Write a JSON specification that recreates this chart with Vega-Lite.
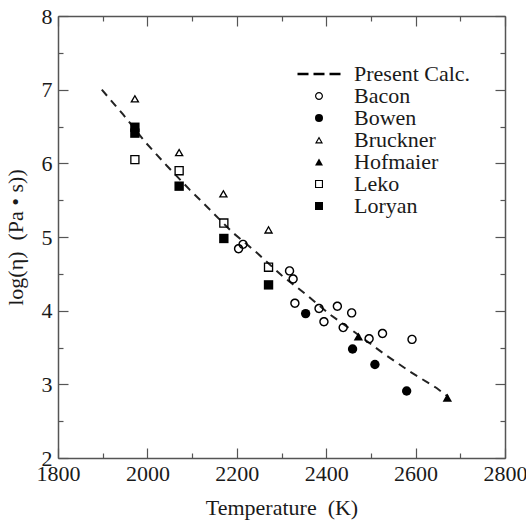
{
  "$schema": "https://vega.github.io/schema/vega-lite/v6.json",
  "width": 447,
  "height": 442,
  "autosize": {"type": "none"},
  "padding": {"left": 58, "top": 16, "right": 21, "bottom": 64},
  "background": "white",
  "datasets": {
    "calc": [
      {"T": 1898, "logeta": 7.00},
      {"T": 1946, "logeta": 6.66},
      {"T": 1995, "logeta": 6.29},
      {"T": 2043, "logeta": 5.97},
      {"T": 2095, "logeta": 5.64},
      {"T": 2140, "logeta": 5.37},
      {"T": 2189, "logeta": 5.07},
      {"T": 2248, "logeta": 4.77},
      {"T": 2300, "logeta": 4.48},
      {"T": 2353, "logeta": 4.23},
      {"T": 2408, "logeta": 3.95},
      {"T": 2470, "logeta": 3.68},
      {"T": 2528, "logeta": 3.42},
      {"T": 2588, "logeta": 3.17},
      {"T": 2647, "logeta": 2.95},
      {"T": 2673, "logeta": 2.83}
    ],
    "obs": [
      {"src": "Bacon", "T": 2204, "logeta": 4.84},
      {"src": "Bacon", "T": 2214, "logeta": 4.90},
      {"src": "Bacon", "T": 2318, "logeta": 4.54},
      {"src": "Bacon", "T": 2326, "logeta": 4.43},
      {"src": "Bacon", "T": 2330, "logeta": 4.10},
      {"src": "Bacon", "T": 2384, "logeta": 4.03},
      {"src": "Bacon", "T": 2395, "logeta": 3.85},
      {"src": "Bacon", "T": 2425, "logeta": 4.06},
      {"src": "Bacon", "T": 2438, "logeta": 3.77},
      {"src": "Bacon", "T": 2457, "logeta": 3.97},
      {"src": "Bacon", "T": 2496, "logeta": 3.62},
      {"src": "Bacon", "T": 2526, "logeta": 3.69},
      {"src": "Bacon", "T": 2592, "logeta": 3.61},
      {"src": "Bowen", "T": 2354, "logeta": 3.96},
      {"src": "Bowen", "T": 2459, "logeta": 3.48},
      {"src": "Bowen", "T": 2509, "logeta": 3.27},
      {"src": "Bowen", "T": 2580, "logeta": 2.91},
      {"src": "Bruckner", "T": 1972, "logeta": 6.88},
      {"src": "Bruckner", "T": 2071, "logeta": 6.15},
      {"src": "Bruckner", "T": 2170, "logeta": 5.59},
      {"src": "Bruckner", "T": 2271, "logeta": 5.10},
      {"src": "Hofmaier", "T": 2472, "logeta": 3.65},
      {"src": "Hofmaier", "T": 2671, "logeta": 2.82},
      {"src": "Leko", "T": 1972, "logeta": 6.05},
      {"src": "Leko", "T": 2071, "logeta": 5.90},
      {"src": "Leko", "T": 2171, "logeta": 5.19},
      {"src": "Leko", "T": 2271, "logeta": 4.59},
      {"src": "Loryan", "T": 1972, "logeta": 6.49},
      {"src": "Loryan", "T": 1972, "logeta": 6.41},
      {"src": "Loryan", "T": 2071, "logeta": 5.69},
      {"src": "Loryan", "T": 2171, "logeta": 4.98},
      {"src": "Loryan", "T": 2271, "logeta": 4.35}
    ]
  },
  "layer": [
    {
      "data": {"name": "calc"},
      "mark": {"type": "line", "color": "#222", "strokeWidth": 2, "strokeDash": [8, 6]},
      "encoding": {
        "x": {
          "field": "T", "type": "quantitative",
          "scale": {"domain": [1800, 2800], "nice": false, "zero": false},
          "axis": {
            "orient": "bottom",
            "title": "Temperature\u00a0\u00a0(K)",
            "values": [1800, 1900, 2000, 2100, 2200, 2300, 2400, 2500, 2600, 2700, 2800],
            "labelExpr": "datum.value % 200 === 0 ? format(datum.value, 'd') : ''",
            "labelFont": "Liberation Serif",
            "titleFont": "Liberation Serif",
            "tickSize": {"condition": {"test": "datum.value % 200 === 0", "value": -10}, "value": -5},
            "labelPadding": 15,
            "titlePadding": 8
          }
        },
        "y": {
          "field": "logeta", "type": "quantitative",
          "scale": {"domain": [2, 8], "nice": false, "zero": false},
          "axis": {
            "orient": "left",
            "title": "log(η)\u00a0\u00a0(Pa • s))",
            "values": [2, 2.5, 3, 3.5, 4, 4.5, 5, 5.5, 6, 6.5, 7, 7.5, 8],
            "labelExpr": "datum.value % 1 === 0 ? format(datum.value, 'd') : ''",
            "labelFont": "Liberation Serif",
            "titleFont": "Liberation Serif",
            "tickSize": {"condition": {"test": "datum.value % 1 === 0", "value": -10}, "value": -5},
            "labelPadding": 16,
            "titlePadding": 14
          }
        }
      }
    },
    {
      "data": {"name": "obs"},
      "mark": {"type": "point", "filled": true, "size": 88, "color": "black", "strokeWidth": 0, "opacity": 1},
      "encoding": {
        "x": {
          "field": "T", "type": "quantitative",
          "scale": {"domain": [1800, 2800], "nice": false, "zero": false},
          "axis": {
            "orient": "top",
            "title": null,
            "labels": false,
            "values": [1800, 1900, 2000, 2100, 2200, 2300, 2400, 2500, 2600, 2700, 2800],
            "tickSize": {"condition": {"test": "datum.value % 200 === 0", "value": -10}, "value": -5}
          }
        },
        "y": {
          "field": "logeta", "type": "quantitative",
          "scale": {"domain": [2, 8], "nice": false, "zero": false},
          "axis": {
            "orient": "right",
            "title": null,
            "labels": false,
            "values": [2, 2.5, 3, 3.5, 4, 4.5, 5, 5.5, 6, 6.5, 7, 7.5, 8],
            "tickSize": {"condition": {"test": "datum.value % 1 === 0", "value": -10}, "value": -5}
          }
        },
        "shape": {
          "field": "src", "type": "nominal",
          "scale": {
            "domain": ["Present Calc.", "Bacon", "Bowen", "Bruckner", "Hofmaier", "Leko", "Loryan"],
            "range": [
              "M-5.375,-0.3H-2.625V0.3H-5.375Z M-1.375,-0.3H1.375V0.3H-1.375Z M2.625,-0.3H5.375V0.3H2.625Z",
              "M-1,0A1,1,0,1,0,1,0A1,1,0,1,0,-1,0Z M-0.7,0A0.7,0.7,0,1,1,0.7,0A0.7,0.7,0,1,1,-0.7,0Z",
              "circle",
              "M0,-0.866L-1,0.866L1,0.866Z M0,-0.33L0.5,0.57L-0.5,0.57Z",
              "triangle-up",
              "M-1,-1H1V1H-1Z M-0.72,-0.72V0.72H0.72V-0.72Z",
              "square"
            ]
          },
          "legend": {
            "orient": "none", "legendX": 250, "legendY": 47, "title": null,
            "labelFont": "Liberation Serif", "labelFontSize": 22, "labelOffset": 24,
            "symbolFillColor": "black", "symbolStrokeWidth": 0, "symbolOpacity": 1
          }
        }
      }
    }
  ],
  "resolve": {"axis": {"x": "independent", "y": "independent"}},
  "config": {
    "font": "Liberation Serif",
    "view": {"stroke": null},
    "axis": {
      "grid": false,
      "labelFont": "Liberation Serif",
      "titleFont": "Liberation Serif",
      "labelFontSize": 22,
      "titleFontSize": 22,
      "titleFontWeight": "normal",
      "labelColor": "#1a1a1a",
      "titleColor": "#1a1a1a",
      "domainColor": "#555",
      "domainWidth": 1.5,
      "tickColor": "#555",
      "tickWidth": 1.2,
      "labelFlush": false,
      "labelOverlap": false
    },
    "legend": {
      "labelFont": "Liberation Serif",
      "labelFontSize": 22,
      "labelColor": "#1a1a1a",
      "labelLimit": 300,
      "symbolSize": 64,
      "rowPadding": 0,
      "labelOffset": 24,
      "padding": 0
    }
  }
}
